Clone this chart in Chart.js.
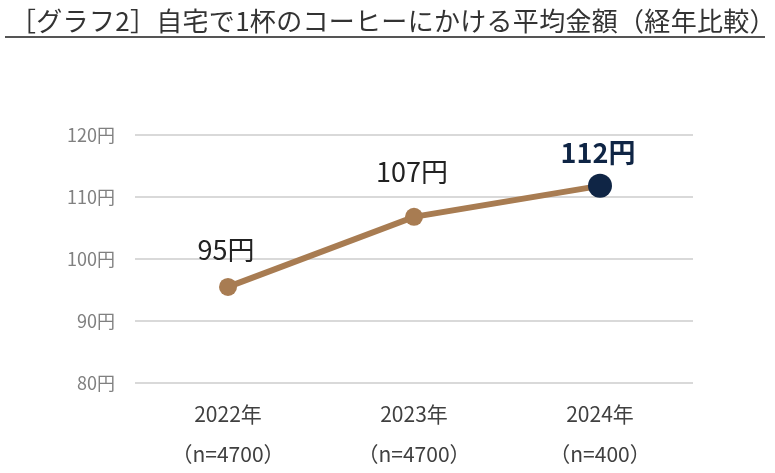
<!DOCTYPE html>
<html>
<head>
<meta charset="utf-8">
<script src="https://cdn.jsdelivr.net/npm/chart.js@4/dist/chart.umd.min.js"></script>
<style>
  body { margin: 0; background: #fff; }
  #wrap { position: relative; width: 775px; height: 473px; }
  #title {
    position: absolute; left: 5px; top: 3px; width: 760px;
    font-family: "Noto Sans CJK JP", sans-serif; font-size: 26px; color: #333;
    line-height: 33px; padding-left: 5px; box-sizing: border-box; letter-spacing: 0.3px;
    border-bottom: 2px solid #555; white-space: nowrap;
  }
</style>
</head>
<body>
<div id="wrap">
  <div id="title">［グラフ2］自宅で1杯のコーヒーにかける平均金額（経年比較）</div>
  <canvas id="c" width="775" height="473"></canvas>
</div>
<script>
// data
var years = ["2022年", "2023年", "2024年"];
var samples = ["（n=4700）", "（n=4700）", "（n=400）"];
var avgPrice = [95.5, 106.8, 111.8];
var priceLabels = ["95円", "107円", "112円"];
var yTicks = [80, 90, 100, 110, 120];

var brown = "#a87c52";
var navy = "#0f2545";
var FONT = '"Noto Sans CJK JP", sans-serif';

// labels above points
var labelPlugin = {
  id: "priceLabels",
  afterDatasetsDraw: function (chart) {
    var ctx = chart.ctx;
    var pts = chart.getDatasetMeta(0).data;
    var offsets = [37, 45, 33];
    ctx.save();
    ctx.textAlign = "center";
    ctx.textBaseline = "middle";
    for (var i = 0; i < pts.length; i++) {
      var last = i == pts.length - 1;
      ctx.font = (last ? "bold " : "") + "27px " + FONT;
      ctx.fillStyle = last ? navy : "#222";
      ctx.fillText(priceLabels[i], pts[i].x - 2, pts[i].y - offsets[i]);
    }
    ctx.restore();
  }
};

new Chart("c", {
  type: "line",
  data: {
    labels: years.map(function (y, i) { return [y, samples[i]]; }),
    datasets: [{
      data: avgPrice,
      borderColor: brown,
      borderWidth: 6,
      pointRadius: [9, 9, 12],
      pointBackgroundColor: [brown, brown, navy],
      pointBorderWidth: 0,
      tension: 0
    }]
  },
  options: {
    responsive: false,
    animation: false,
    layout: { padding: { top: 135, right: 82, left: 0, bottom: 0 } },
    plugins: { legend: { display: false }, tooltip: { enabled: false } },
    scales: {
      x: {
        offset: true,
        grid: { display: false, drawTicks: false },
        border: { display: false },
        afterFit: function (s) { s.height = 90; },
        ticks: {
          padding: 11,
          color: "#404040",
          font: { family: FONT, size: 21, lineHeight: 1.9 }
        }
      },
      y: {
        min: yTicks[0],
        max: yTicks[yTicks.length - 1],
        afterFit: function (s) { s.width = 135; },
        afterBuildTicks: function (s) { s.ticks = yTicks.map(function (v) { return { value: v }; }); },
        grid: { color: "#d9d9d9", lineWidth: 2, drawTicks: false },
        border: { display: false },
        ticks: {
          padding: 20,
          color: "#808080",
          font: { family: FONT, size: 18 },
          callback: function (v) { return v + "円"; }
        }
      }
    }
  },
  plugins: [labelPlugin]
});
</script>
</body>
</html>
